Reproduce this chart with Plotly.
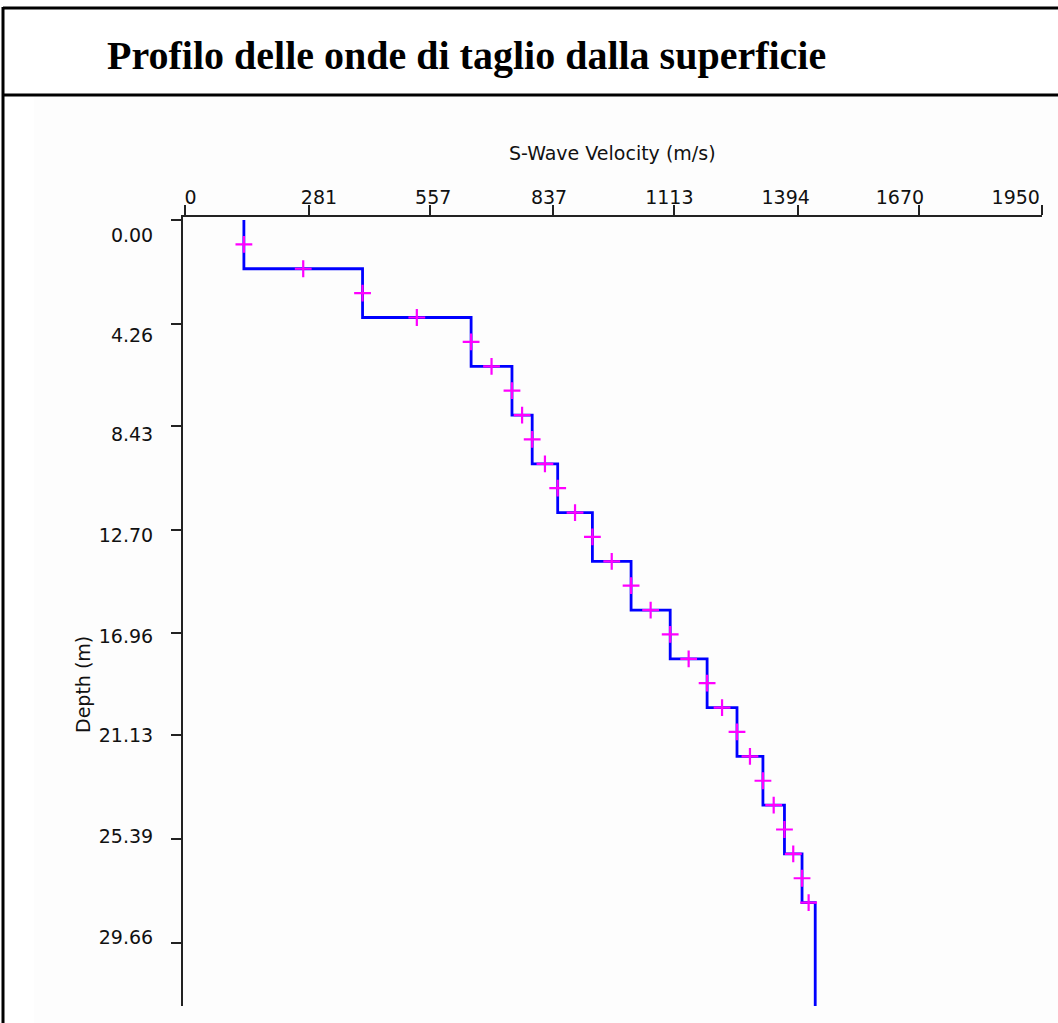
import plotly.graph_objects as go

# ---- data ----
layer_tops = [0, 2, 4, 6, 8, 10, 12, 14, 16, 18, 20, 22, 24, 26, 28]
velocities = [134, 404, 651, 744, 790, 848, 927, 1015, 1104, 1188, 1256, 1315, 1364, 1404, 1434]
halfspace_bottom = 34
x_ticks = [0, 281, 557, 837, 1113, 1394, 1670, 1950]
y_ticks = [0.00, 4.26, 8.43, 12.70, 16.96, 21.13, 25.39, 29.66]
y_ticklabels = ["0.00", "4.26", "8.43", "12.70", "16.96", "21.13", "25.39", "29.66"]

W, H = 1058, 1023
ML, MR, MT, MB = 183, 16, 217, 17
PW, PH = W - ML - MR, H - MT - MB

def px(xp):
    return (xp - ML) / PW

def py(yp):
    return (H - MB - yp) / PH

bottoms = layer_tops[1:] + [halfspace_bottom]
line_x, line_y = [], []
for v, t, b in zip(velocities, layer_tops, bottoms):
    line_x += [v, v]
    line_y += [t, b]

mk_x, mk_y = [], []
for i in range(len(velocities) - 1):
    mk_x.append(velocities[i])
    mk_y.append((layer_tops[i] + bottoms[i]) / 2)
    mk_x.append((velocities[i] + velocities[i + 1]) / 2)
    mk_y.append(bottoms[i])

fig = go.Figure()
fig.add_trace(go.Scatter(x=line_x, y=line_y, mode="lines",
                         line=dict(color="#0000ff", width=2.8), showlegend=False,
                         hoverinfo="skip"))
fig.add_trace(go.Scatter(x=mk_x, y=mk_y, mode="markers",
                         marker=dict(symbol="cross-thin", size=12,
                                     line=dict(color="#ff00ff", width=2.2)),
                         showlegend=False))
# invisible trace so that the label axes (x2/y2) are drawn
fig.add_trace(go.Scatter(x=[x_ticks[0]], y=[y_ticks[0]], xaxis="x2", yaxis="y2",
                         mode="markers", marker=dict(opacity=0), showlegend=False,
                         hoverinfo="skip"))

tick_font = dict(family="DejaVu Sans", size=19, color="#111111")

# tick marks axes (primary)
x_px_per = 0.4395
fig.update_layout(
    xaxis=dict(side="top", range=[-2 / x_px_per, 1950], tickvals=x_ticks,
               ticks="outside", ticklen=10, tickwidth=2, tickcolor="#222",
               showline=True, linewidth=2, linecolor="#222",
               showgrid=False, zeroline=False, showticklabels=False),
    yaxis=dict(range=[32.24, -3 / 24.38], tickvals=y_ticks,
               ticks="outside", ticklen=10, tickwidth=2, tickcolor="#222",
               showline=True, linewidth=2, linecolor="#222",
               showgrid=False, zeroline=False, showticklabels=False),
)

# label axes (overlaid), labels spaced as in the reference picture
lab_step_x = 115.3
x2_scale = lab_step_x * 7 / 1950
x2_lo = (ML - 184) / x2_scale
x2_hi = x2_lo + PW / x2_scale
lab_step_y = 100.3
y2_scale = lab_step_y * 7 / 29.66
y2_top = (MT - 235) / y2_scale
y2_bot = y2_top + PH / y2_scale
fig.update_layout(
    xaxis2=dict(overlaying="x", side="top", anchor="y", range=[x2_lo, x2_hi],
                tickvals=x_ticks, ticktext=[str(v) for v in x_ticks],
                ticks="outside", ticklen=10, tickcolor="rgba(0,0,0,0)",
                ticklabelposition="outside right", ticklabelstandoff=4,
                showline=False, showgrid=False, zeroline=False, tickfont=tick_font),
    yaxis2=dict(overlaying="y", side="left", anchor="x", range=[y2_bot, y2_top],
                tickvals=y_ticks, ticktext=y_ticklabels,
                ticks="outside", ticklen=10, tickcolor="rgba(0,0,0,0)",
                ticklabelstandoff=15,
                showline=False, showgrid=False, zeroline=False, tickfont=tick_font),
)

shapes = [
    dict(type="rect", xref="paper", yref="paper", x0=px(34), x1=px(W + 5),
         y0=py(H + 5), y1=py(97), fillcolor="#fdfdfd", line=dict(width=0), layer="below"),
    dict(type="line", xref="paper", yref="paper", x0=px(3), x1=px(W + 5),
         y0=py(8), y1=py(8), line=dict(color="black", width=3)),
    dict(type="line", xref="paper", yref="paper", x0=px(3), x1=px(W + 5),
         y0=py(95), y1=py(95), line=dict(color="black", width=3)),
    dict(type="line", xref="paper", yref="paper", x0=px(3), x1=px(3),
         y0=py(7), y1=py(H + 5), line=dict(color="black", width=3)),
]

annotations = [
    dict(text="<b>Profilo delle onde di taglio dalla superficie</b>", xref="paper", yref="paper",
         x=px(105), y=py(55), xanchor="left", yanchor="middle", showarrow=False,
         font=dict(family="Liberation Serif", size=40, color="black")),
    dict(text="S-Wave Velocity (m/s)", xref="paper", yref="paper", x=px(612), y=py(153),
         xanchor="center", yanchor="middle", showarrow=False, font=tick_font),
    dict(text="Depth (m)", xref="paper", yref="paper", x=px(83), y=py(685),
         xanchor="center", yanchor="middle", textangle=-90, showarrow=False,
         font=tick_font),
]

fig.update_layout(width=W, height=H, margin=dict(l=ML, r=MR, t=MT, b=MB),
                  paper_bgcolor="white", plot_bgcolor="#fdfdfd",
                  shapes=shapes, annotations=annotations)

fig.write_html("out.html", config={"displayModeBar": False},
               post_script="document.body.style.margin='0';")
